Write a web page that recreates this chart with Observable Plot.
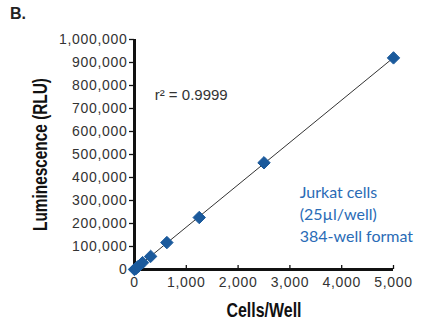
<!DOCTYPE html>
<html>
<head>
<meta charset="utf-8">
<script src="https://cdn.jsdelivr.net/npm/d3@7"></script>
<script src="https://cdn.jsdelivr.net/npm/@observablehq/plot@0.6"></script>
<style>
  html, body { margin: 0; padding: 0; background: #fff; }
  #wrap { position: relative; width: 434px; height: 328px; }
  #panel { position: absolute; left: 10px; top: 5px; font: bold 16px "Liberation Sans", Arial, sans-serif; color: #222; }
  svg g[aria-label="y-axis tick label"] text,
  svg g[aria-label="x-axis tick label"] text { letter-spacing: 0.7px; }
</style>
</head>
<body>
<div id="wrap"><div id="panel">B.</div></div>
<script>
const cellsPerWell = [0, 20, 39, 78, 156, 312, 625, 1250, 2500, 5000];
const luminescence = [0, 3500, 7200, 14500, 30000, 57000, 117000, 226000, 464000, 920000];
const xTicks = [0, 1000, 2000, 3000, 4000, 5000];
const yTicks = [0, 100000, 200000, 300000, 400000, 500000, 600000, 700000, 800000, 900000, 1000000];
const xLabel = "Cells/Well";
const yLabel = "Luminescence (RLU)";
const r2Note = [{x: 390, y: 760000, text: "r\u00b2 = 0.9999"}];
const cellNote = [{x: 3190, y: 245000, text: "Jurkat cells\n(25\u00b5l/well)\n384-well format"}];

const data = cellsPerWell.map((c, i) => ({cells: c, rlu: luminescence[i]}));
const fmt = d3.format(",");
const tickFont = "Liberation Sans, Arial, sans-serif";
const labelFont = "'Liberation Sans', Arial, sans-serif";

const chart = Plot.plot({
  width: 434,
  height: 328,
  marginLeft: 134,
  marginTop: 39,
  marginBottom: 59,
  marginRight: 41,
  style: {fontFamily: tickFont, fontSize: "14px", color: "#333", background: "transparent"},
  x: {domain: [0, 5000]},
  y: {domain: [0, 1000000]},
  marks: [
    Plot.axisY({ticks: yTicks, tickFormat: fmt, tickSize: 5, tickPadding: 2, label: null, fontSize: 14, stroke: "#111", strokeWidth: 1.3}),
    Plot.axisX({ticks: xTicks, tickFormat: fmt, tickSize: -4, tickPadding: 12, label: null, fontSize: 14, stroke: "#111", strokeWidth: 1.3}),
    Plot.ruleX([0], {stroke: "#111", strokeWidth: 3}),
    Plot.ruleY([0], {stroke: "#111", strokeWidth: 3}),
    Plot.linearRegressionY(data, {x: "cells", y: "rlu", ci: 0, stroke: "#333", strokeWidth: 1}),
    Plot.dot(data, {x: "cells", y: "rlu", symbol: "diamond2", r: 5.6, fill: "#1b5a9c", stroke: "#1b5a9c", strokeWidth: 1}),
    Plot.text(r2Note, {x: "x", y: "y", text: "text", textAnchor: "start", fontSize: 15, fill: "#333"}),
    Plot.text(cellNote, {x: "x", y: "y", text: "text", textAnchor: "start", lineHeight: 1.35, fontSize: 16, fill: "#2a6bb6", fontFamily: "'Comic Sans MS', Lato, sans-serif"}),
    Plot.text([yLabel], {text: d => d, frameAnchor: "left", dx: -94, rotate: -90, textAnchor: "middle", lineAnchor: "middle", fontSize: 20, fontWeight: "bold", fontFamily: labelFont, fill: "#111", className: "ylab"}),
    Plot.text([xLabel], {text: d => d, frameAnchor: "bottom", dy: 41, textAnchor: "middle", lineAnchor: "middle", fontSize: 20, fontWeight: "bold", fontFamily: labelFont, fill: "#111", className: "xlab"})
  ]
});
// condense the bold axis titles to the reference's narrow face
d3.select(chart).selectAll(".ylab text").attr("textLength", 153).attr("lengthAdjust", "spacingAndGlyphs");
d3.select(chart).selectAll(".xlab text").attr("textLength", 75).attr("lengthAdjust", "spacingAndGlyphs");
document.getElementById("wrap").prepend(chart);
chart.style.position = "absolute";
chart.style.left = "0";
chart.style.top = "0";
</script>
</body>
</html>
